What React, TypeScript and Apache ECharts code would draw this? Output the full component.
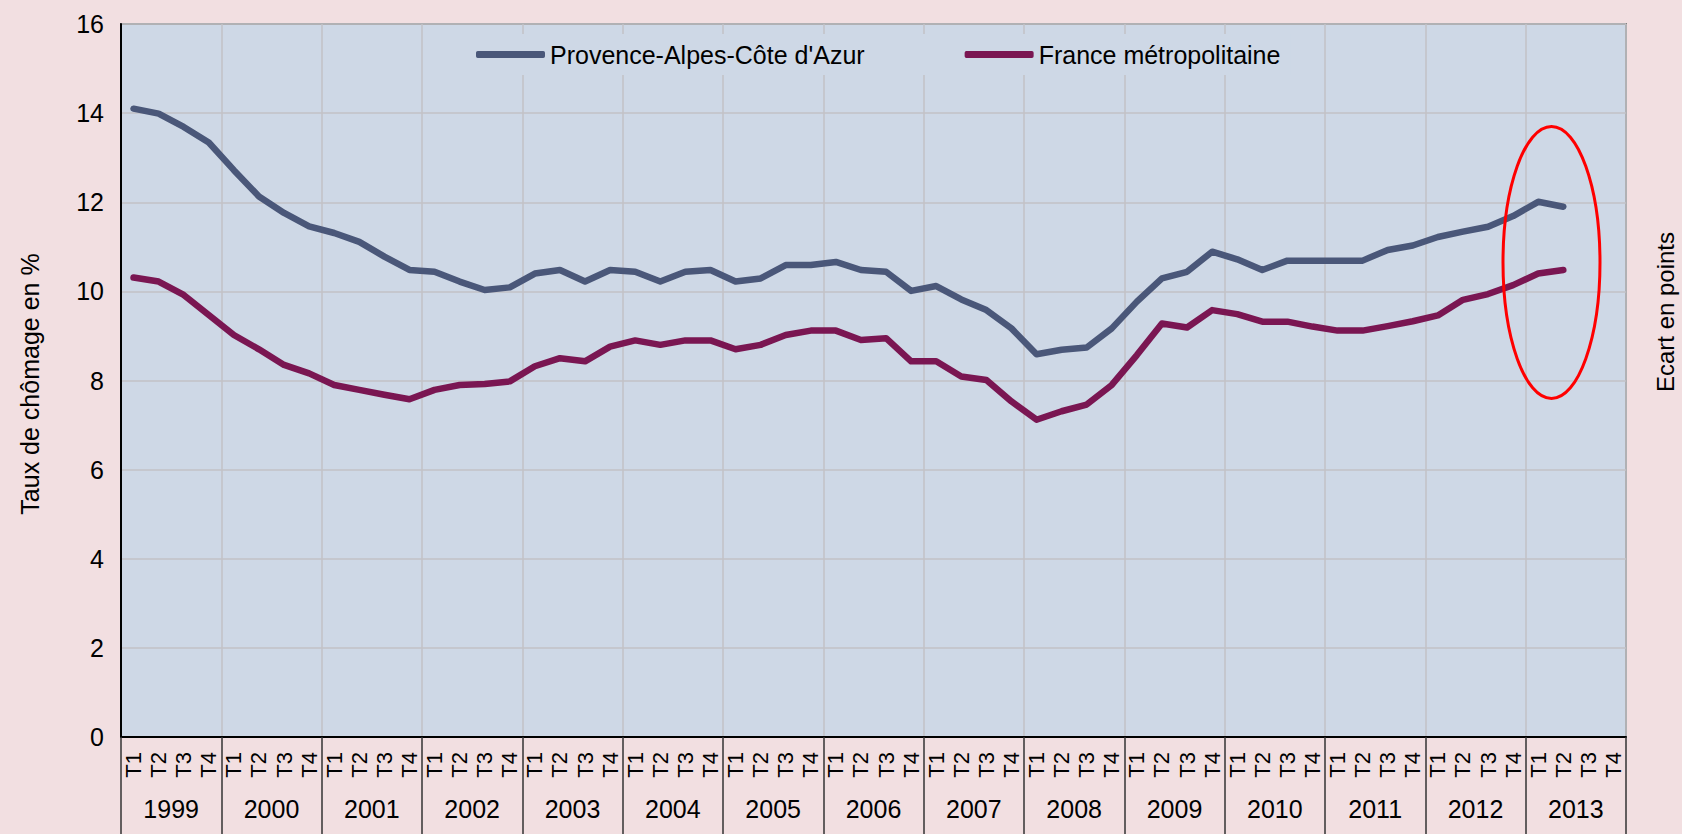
import React, { useEffect, useRef } from "react";
import * as echarts from "echarts";

const years = ["1999","2000","2001","2002","2003","2004","2005","2006","2007","2008","2009","2010","2011","2012","2013"];
const quarterNames = ["T1","T2","T3","T4"];

const pacaValues = [
  14.10, 13.99, 13.69, 13.34,
  12.72, 12.13, 11.76, 11.46,
  11.31, 11.11, 10.78, 10.48,
  10.44, 10.22, 10.03, 10.09,
  10.40, 10.48, 10.22, 10.48,
  10.44, 10.22, 10.44, 10.48,
  10.22, 10.29, 10.59, 10.59,
  10.66, 10.48, 10.44, 10.01,
  10.12, 9.82, 9.58, 9.17,
  8.59, 8.69, 8.74, 9.17,
  9.77, 10.29, 10.44, 10.89,
  10.72, 10.48, 10.69, 10.69,
  10.69, 10.69, 10.93, 11.03,
  11.22, 11.34, 11.45, 11.69,
  12.01, 11.90
];

const franceValues = [
  10.31, 10.22, 9.92, 9.47,
  9.02, 8.70, 8.35, 8.16,
  7.90, 7.79, 7.68, 7.58,
  7.79, 7.90, 7.92, 7.98,
  8.32, 8.50, 8.43, 8.76,
  8.90, 8.80, 8.90, 8.90,
  8.70, 8.80, 9.02, 9.12,
  9.12, 8.91, 8.95, 8.43,
  8.43, 8.09, 8.01, 7.53,
  7.12, 7.31, 7.46, 7.90,
  8.57, 9.28, 9.19, 9.58,
  9.49, 9.32, 9.32, 9.21,
  9.12, 9.12, 9.22, 9.33,
  9.46, 9.81, 9.94, 10.14,
  10.40, 10.48
];

const yTicks = { min: 0, max: 16, interval: 2 };

const FONT = "'Liberation Sans', Arial, sans-serif";

export default function App() {
  const ref = useRef<HTMLDivElement>(null);
  useEffect(() => {
    document.body.style.margin = "0";
    if (!ref.current) return;
    const chart = echarts.init(ref.current, undefined, { renderer: "svg" });
    const quarterCats: string[] = [];
    years.forEach((y) => quarterNames.forEach((q) => quarterCats.push(y + "-" + q)));
    chart.setOption({
      animation: false,
      backgroundColor: "#f2dfe1",
      textStyle: { fontFamily: FONT },
      grid: {
        left: 121, right: 56, top: 24, bottom: 97,
        show: true, backgroundColor: "#ced8e6", borderColor: "#808080", borderWidth: 2,
      },
      legend: {
        left: 466, top: 34, padding: [8, 10], backgroundColor: "#ced8e6",
        itemWidth: 69, itemHeight: 7, itemGap: 100, icon: "roundRect",
        textStyle: { fontSize: 25, color: "#000", fontFamily: FONT },
        data: ["Provence-Alpes-Côte d'Azur", "France métropolitaine"],
      },
      xAxis: [
        {
          type: "category", data: quarterCats, position: "bottom", boundaryGap: true,
          axisLine: { show: true, lineStyle: { color: "#000", width: 2 } },
          axisTick: { show: false },
          splitLine: { show: false },
          axisLabel: {
            interval: 0, rotate: 90, margin: 15, fontSize: 22, color: "#000", fontFamily: FONT,
            formatter: (v: string) => v.split("-")[1],
          },
        },
        {
          type: "category", data: years, position: "bottom", offset: 0, boundaryGap: true,
          axisLine: { show: false },
          axisTick: { show: true, interval: 0, length: 97, lineStyle: { color: "#333", width: 1.5 } },
          splitLine: { show: true, interval: 0, lineStyle: { color: "#c2c2c6", width: 1.5 } },
          axisLabel: { interval: 0, margin: 59, fontSize: 25, color: "#000", fontFamily: FONT },
        },
      ],
      yAxis: {
        type: "value", min: yTicks.min, max: yTicks.max, interval: yTicks.interval,
        axisLine: { show: true, lineStyle: { color: "#000", width: 2 } },
        axisTick: { show: false },
        splitLine: { show: true, lineStyle: { color: "#c2c2c6", width: 1.5 } },
        axisLabel: { fontSize: 25, color: "#000", margin: 17, fontFamily: FONT },
      },
      series: [
        {
          name: "Provence-Alpes-Côte d'Azur", type: "line", xAxisIndex: 0, data: pacaValues,
          symbol: "none", smooth: false, color: "#4a5779",
          lineStyle: { width: 6.5, color: "#4a5779", cap: "round", join: "round" },
        },
        {
          name: "France métropolitaine", type: "line", xAxisIndex: 0, data: franceValues,
          symbol: "none", smooth: false, color: "#7a1652",
          lineStyle: { width: 6.5, color: "#7a1652", cap: "round", join: "round" },
        },
      ],
      graphic: [
        {
          type: "text", x: 30, y: 384, rotation: Math.PI / 2,
          style: { text: "Taux de chômage en %", fontSize: 25, fill: "#000", align: "center", verticalAlign: "middle", fontFamily: FONT },
        },
        {
          type: "text", x: 1665, y: 312, rotation: Math.PI / 2,
          style: { text: "Ecart en points", fontSize: 24, fill: "#000", align: "center", verticalAlign: "middle", fontFamily: FONT },
        },
        {
          type: "ellipse", shape: { cx: 1551.5, cy: 262.5, rx: 48.5, ry: 136 },
          style: { fill: "none", stroke: "#ff0000", lineWidth: 3 }, z: 100,
        },
      ],
    });
    return () => chart.dispose();
  }, []);
  return <div ref={ref} style={{ width: 1682, height: 834 }} />;
}
